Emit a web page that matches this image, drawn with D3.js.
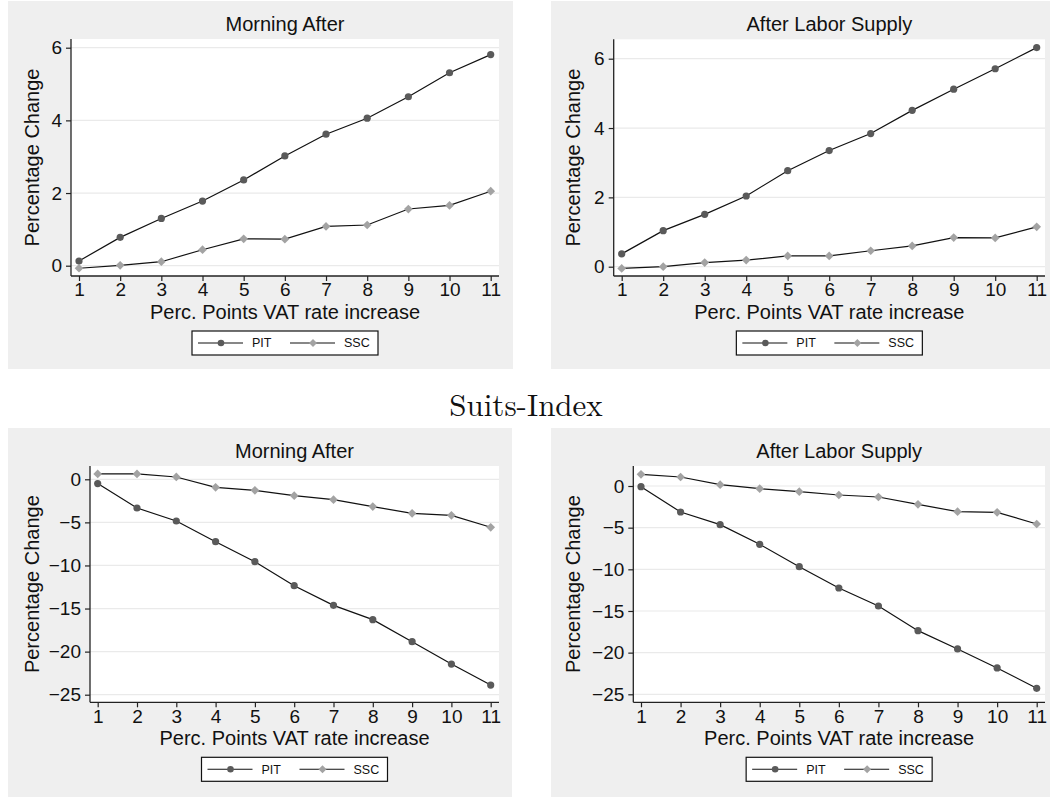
<!DOCTYPE html>
<html>
<head>
<meta charset="utf-8">
<script src="https://cdn.jsdelivr.net/npm/d3@7"></script>
<style>
  html, body { margin: 0; padding: 0; background: #ffffff; }
  svg { display: block; }
</style>
</head>
<body>
<svg id="chart" width="1052" height="798"></svg>
<script>
// ---------------- DATA ----------------
const xValues = [1, 2, 3, 4, 5, 6, 7, 8, 9, 10, 11];
const seriesNames = ["PIT", "SSC"];

const topLeftPIT = [0.13, 0.78, 1.30, 1.78, 2.36, 3.02, 3.62, 4.06, 4.65, 5.31, 5.81];
const topLeftSSC = [-0.07, 0.01, 0.11, 0.44, 0.74, 0.73, 1.08, 1.12, 1.56, 1.66, 2.05];

const topRightPIT = [0.37, 1.04, 1.51, 2.04, 2.77, 3.35, 3.84, 4.51, 5.12, 5.71, 6.32];
const topRightSSC = [-0.05, 0.00, 0.12, 0.19, 0.31, 0.31, 0.46, 0.60, 0.84, 0.83, 1.15];

const bottomLeftPIT = [-0.50, -3.33, -4.84, -7.24, -9.56, -12.35, -14.63, -16.29, -18.85, -21.44, -23.88];
const bottomLeftSSC = [0.62, 0.62, 0.27, -0.93, -1.28, -1.90, -2.36, -3.17, -3.95, -4.18, -5.57];

const bottomRightPIT = [-0.08, -3.12, -4.64, -7.00, -9.68, -12.24, -14.40, -17.36, -19.56, -21.84, -24.28];
const bottomRightSSC = [1.40, 1.08, 0.16, -0.32, -0.68, -1.08, -1.32, -2.20, -3.08, -3.16, -4.56];

const topYTicks = [0, 2, 4, 6];
const bottomYTicks = [0, -5, -10, -15, -20, -25];

const panelTitles = ["Morning After", "After Labor Supply", "Morning After", "After Labor Supply"];
const xAxisTitle = "Perc. Points VAT rate increase";
const yAxisTitle = "Percentage Change";
const middleTitle = "Suits-Index";

// ---------------- LAYOUT ----------------
const panels = [
  { title: panelTitles[0], pit: topLeftPIT, ssc: topLeftSSC, ticks: topYTicks,
    bg: {x: 8, y: 1, w: 505, h: 368},
    plot: {l: 71, r: 499, t: 39, b: 276},
    xr: [79, 490.7], yd: [0, 6], yr: [265.7, 47.7], ytitleX: 32 },
  { title: panelTitles[1], pit: topRightPIT, ssc: topRightSSC, ticks: topYTicks,
    bg: {x: 551, y: 1, w: 499, h: 368},
    plot: {l: 613.7, r: 1045, t: 39.3, b: 276},
    xr: [621.7, 1036.7], yd: [0, 6], yr: [266.7, 58.7], ytitleX: 573 },
  { title: panelTitles[2], pit: bottomLeftPIT, ssc: bottomLeftSSC, ticks: bottomYTicks,
    bg: {x: 8, y: 428, w: 504, h: 369},
    plot: {l: 90, r: 499, t: 466, b: 702.3},
    xr: [97.7, 490.7], yd: [0, -25], yr: [479.3, 694.7], ytitleX: 32 },
  { title: panelTitles[3], pit: bottomRightPIT, ssc: bottomRightSSC, ticks: bottomYTicks,
    bg: {x: 551, y: 428, w: 499, h: 369},
    plot: {l: 633.3, r: 1045, t: 466, b: 702.3},
    xr: [641, 1036.7], yd: [0, -25], yr: [486, 694.3], ytitleX: 573 }
];

const FONT = "'Liberation Sans', Arial, Helvetica, sans-serif";
const svg = d3.select("#chart");

const pitColor = "#5a5a5a";
const sscColor = "#a3a3a3";
const diamond = d3.symbol().type(d3.symbolSquare).size(38);
const diamondLegend = d3.symbol().type(d3.symbolSquare).size(32);

function fmt(v) { return v < 0 ? "\u2212" + Math.abs(v) : String(v); }

panels.forEach(p => {
  const g = svg.append("g");
  // panel background
  g.append("rect").attr("x", p.bg.x).attr("y", p.bg.y).attr("width", p.bg.w).attr("height", p.bg.h)
    .attr("fill", "#efefef");
  // plot area
  g.append("rect").attr("x", p.plot.l).attr("y", p.plot.t)
    .attr("width", p.plot.r - p.plot.l).attr("height", p.plot.b - p.plot.t)
    .attr("fill", "#ffffff");

  const x = d3.scaleLinear().domain([1, 11]).range(p.xr);
  const y = d3.scaleLinear().domain(p.yd).range(p.yr);

  // grid lines
  g.append("g").selectAll("line").data(p.ticks).join("line")
    .attr("x1", p.plot.l).attr("x2", p.plot.r)
    .attr("y1", d => y(d)).attr("y2", d => y(d))
    .attr("stroke", "#eaeaea").attr("stroke-width", 1.2);

  // y axis
  const yAxis = d3.axisLeft(y).tickValues(p.ticks).tickSize(5).tickPadding(4).tickFormat(fmt);
  const ya = g.append("g").attr("transform", `translate(${p.plot.l},0)`).call(yAxis);
  ya.select(".domain").remove();
  ya.append("line").attr("x1", 0).attr("x2", 0).attr("y1", p.plot.t).attr("y2", p.plot.b)
    .attr("stroke", "#222").attr("stroke-width", 1.3);
  ya.selectAll(".tick line").attr("stroke", "#222").attr("stroke-width", 1.2);
  ya.selectAll(".tick text").attr("font-family", FONT).attr("font-size", 19).attr("fill", "#111");

  // x axis
  const xAxis = d3.axisBottom(x).tickValues(xValues).tickSize(5).tickPadding(2).tickFormat(d3.format("d"));
  const xa = g.append("g").attr("transform", `translate(0,${p.plot.b})`).call(xAxis);
  xa.select(".domain").remove();
  xa.append("line").attr("x1", p.plot.l).attr("x2", p.plot.r).attr("y1", 0).attr("y2", 0)
    .attr("stroke", "#222").attr("stroke-width", 1.3);
  xa.selectAll(".tick line").attr("stroke", "#222").attr("stroke-width", 1.2);
  xa.selectAll(".tick text").attr("font-family", FONT).attr("font-size", 19).attr("fill", "#111");

  const cx = (p.plot.l + p.plot.r) / 2;
  // panel title
  g.append("text").attr("x", cx).attr("y", p.plot.t - 15).attr("dy", "0.35em")
    .attr("text-anchor", "middle").attr("font-family", FONT).attr("font-size", 20).attr("fill", "#111")
    .text(p.title);
  // x axis title
  g.append("text").attr("x", cx).attr("y", p.plot.b + 35.5).attr("dy", "0.35em")
    .attr("text-anchor", "middle").attr("font-family", FONT).attr("font-size", 20).attr("fill", "#111")
    .text(xAxisTitle);
  // y axis title
  const cy = (p.plot.t + p.plot.b) / 2;
  g.append("text").attr("transform", `translate(${p.ytitleX},${cy}) rotate(-90)`).attr("dy", "0.35em")
    .attr("text-anchor", "middle").attr("font-family", FONT).attr("font-size", 20).attr("fill", "#111")
    .text(yAxisTitle);

  // lines
  const line = d3.line().x((d, i) => x(xValues[i])).y(d => y(d));
  g.append("path").datum(p.pit).attr("d", line).attr("fill", "none").attr("stroke", "#111").attr("stroke-width", 1.2);
  g.append("path").datum(p.ssc).attr("d", line).attr("fill", "none").attr("stroke", "#111").attr("stroke-width", 1.2);
  // markers
  g.append("g").selectAll("path").data(p.ssc).join("path")
    .attr("d", diamond).attr("transform", (d, i) => `translate(${x(xValues[i])},${y(d)}) rotate(45)`)
    .attr("fill", sscColor);
  g.append("g").selectAll("circle").data(p.pit).join("circle")
    .attr("cx", (d, i) => x(xValues[i])).attr("cy", d => y(d)).attr("r", 3.6)
    .attr("fill", pitColor);

  // legend
  const lw = 186, lh = 24;
  const lx = cx - lw / 2, ly = p.plot.b + 55;
  const lg = g.append("g").attr("transform", `translate(${lx},${ly})`);
  lg.append("rect").attr("x", 0).attr("y", 0).attr("width", lw).attr("height", lh)
    .attr("fill", "#ffffff").attr("stroke", "#111").attr("stroke-width", 1.2);
  const items = [
    { name: seriesNames[0], x0: 6, color: pitColor, kind: "circle" },
    { name: seriesNames[1], x0: 98, color: sscColor, kind: "diamond" }
  ];
  items.forEach(it => {
    lg.append("line").attr("x1", it.x0).attr("x2", it.x0 + 45).attr("y1", lh / 2).attr("y2", lh / 2)
      .attr("stroke", "#111").attr("stroke-width", 1.1);
    if (it.kind === "circle") {
      lg.append("circle").attr("cx", it.x0 + 23).attr("cy", lh / 2).attr("r", 3.3).attr("fill", it.color);
    } else {
      lg.append("path").attr("d", diamondLegend).attr("transform", `translate(${it.x0 + 23},${lh / 2}) rotate(45)`).attr("fill", it.color);
    }
    lg.append("text").attr("x", it.x0 + 54).attr("y", lh / 2).attr("dy", "0.35em")
      .attr("font-family", FONT).attr("font-size", 12.5).attr("fill", "#111").text(it.name);
  });
});

// middle title
svg.append("text").attr("x", 526).attr("y", 405).attr("dy", "0.35em")
  .attr("text-anchor", "middle")
  .attr("font-family", "'Latin Modern Roman', 'CMU Serif', 'Liberation Serif', 'Times New Roman', serif")
  .attr("font-size", 31).attr("fill", "#111")
  .text(middleTitle);
</script>
</body>
</html>
